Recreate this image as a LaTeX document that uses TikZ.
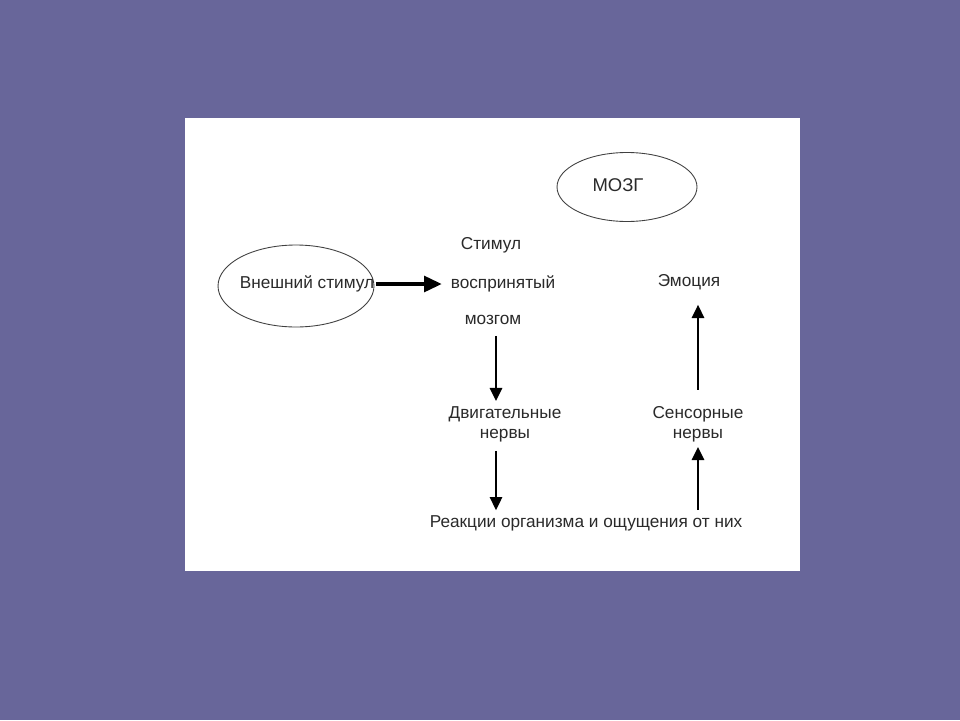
\documentclass[tikz,border=0pt]{standalone}
\usepackage{fontspec}
\setmainfont{Liberation Sans}
\usetikzlibrary{arrows.meta,shapes.geometric}
\definecolor{bgpurple}{HTML}{68669A}
\definecolor{txt}{HTML}{2A2A2A}
\tikzset{
  lbl/.style={text=txt,font=\fontsize{9.8}{11.5}\selectfont,inner sep=1pt,align=center},
  oval/.style={draw=black!75,line width=0.5pt,ellipse,inner sep=0pt},
  bigarrow/.style={line width=1.8pt,-{Triangle[length=10pt,width=9pt]}},
  varrow/.style={line width=1.3pt,-{Triangle[length=7.5pt,width=7pt]}}
}
\begin{document}
\begin{tikzpicture}[x=0.02cm,y=-0.02cm]
\fill[bgpurple] (0,0) rectangle (960,720);
\fill[white] (185,118) rectangle (800,571);
\useasboundingbox (0,0) rectangle (960,720);
% ellipses
\node[oval,minimum width=3.12cm,minimum height=1.64cm] (extov) at (296,286) {};
\node[lbl] (ext) at (307,284) {Внешний стимул};
\node[oval,minimum width=2.8cm,minimum height=1.38cm] (brainov) at (627,187) {};
\node[lbl,font=\fontsize{10.5}{12.5}\selectfont] (brain) at (618,185) {МОЗГ};
% texts
\node[lbl] (stim) at (491,245) {Стимул};
\node[lbl] (perc) at (503,284) {воспринятый};
\node[lbl] (mozgom) at (493,320) {мозгом};
\node[lbl] (motor) at (505,424) {Двигательные\\нервы};
\node[lbl] (react) at (586,523) {Реакции организма и ощущения от них};
\node[lbl] (sens) at (698,424) {Сенсорные\\нервы};
\node[lbl] (emo) at (689,282) {Эмоция};
% columns for vertical connectors
\coordinate (colL) at (496,0);
\coordinate (colR) at (698,0);
\draw[bigarrow,shorten >=0.14cm] (ext.east) -- (perc.west |- ext.east);
\draw[varrow,shorten <=0.18cm,shorten >=0.06cm] (colL |- mozgom.south) -- (colL |- motor.north);
\draw[varrow,shorten <=0.14cm,shorten >=0.06cm] (colL |- motor.south) -- (colL |- react.north);
\draw[varrow,shorten <=0.06cm,shorten >=0.06cm] (colR |- react.north) -- (colR |- sens.south);
\draw[varrow,shorten <=0.28cm,shorten >=0.26cm] (colR |- sens.north) -- (colR |- emo.south);
\end{tikzpicture}
\end{document}
